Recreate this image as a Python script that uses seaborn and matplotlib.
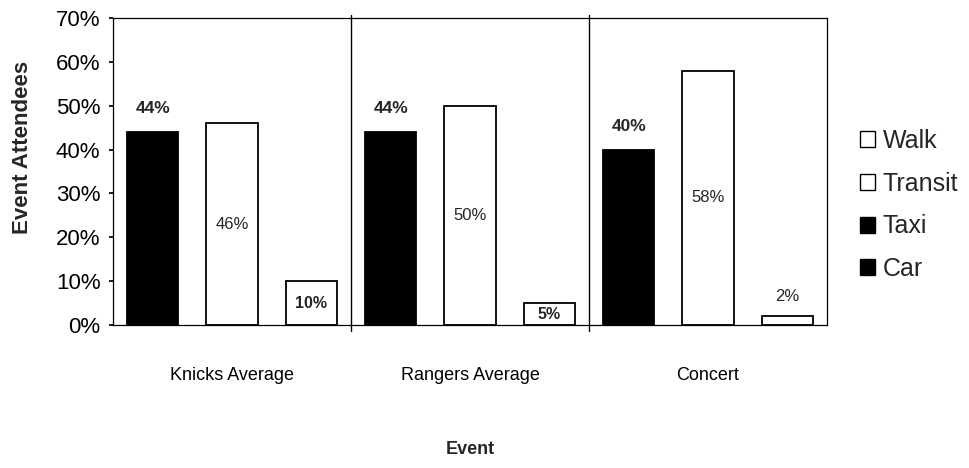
import matplotlib
matplotlib.use("Agg")
import matplotlib.pyplot as plt
from matplotlib.patches import Patch
from matplotlib.ticker import PercentFormatter
import pandas as pd
import seaborn as sns

events = ["Knicks Average", "Rangers Average", "Concert"]
modes = ["Taxi/Car", "Transit", "Walk"]
taxi_car = [0.44, 0.44, 0.40]
transit = [0.46, 0.50, 0.58]
walk = [0.10, 0.05, 0.02]
legend_labels = ["Walk", "Transit", "Taxi", "Car"]
legend_colors = ["white", "white", "black", "black"]


def build_frame():
    rows = []
    for mode, vals in zip(modes, [taxi_car, transit, walk]):
        for ev, v in zip(events, vals):
            rows.append({"Event": ev, "Mode": mode, "Share": v})
    return pd.DataFrame(rows)


def main():
    df = build_frame()
    sns.set_theme(style="white")
    plt.rcParams["font.family"] = ["Liberation Sans", "DejaVu Sans"]

    fig, ax = plt.subplots(figsize=(9.7, 4.68), dpi=100)
    fig.subplots_adjust(left=113 / 970, right=827 / 970, top=1 - 18 / 468, bottom=1 - 325 / 468)

    sns.barplot(
        data=df, x="Event", y="Share", hue="Mode", order=events, hue_order=modes,
        palette={"Taxi/Car": "black", "Transit": "white", "Walk": "white"},
        edgecolor="black", linewidth=1.3, width=1.0, gap=0.35, legend=False, ax=ax,
    )

    ax.set_xlim(-0.5, 2.5)
    ax.set_ylim(0, 0.7)
    ax.set_yticks([i / 10 for i in range(8)])
    ax.yaxis.set_major_formatter(PercentFormatter(1.0, decimals=0))
    ax.tick_params(axis="y", labelsize=16, length=3, direction="out", left=True, pad=6, colors="black")
    ax.tick_params(axis="x", labelsize=13, length=0, pad=30, colors="black")
    for sp in ax.spines.values():
        sp.set_color("black")
        sp.set_linewidth(0.9)

    # group separators
    for xs in [0.5, 1.5]:
        ax.axvline(xs, ymin=-0.02, ymax=1.01, color="black", lw=1.0, clip_on=False)

    # value labels
    for container, mode in zip(ax.containers, modes):
        for bar, ev in zip(container, events):
            v = bar.get_height()
            xc = bar.get_x() + bar.get_width() / 2
            txt = f"{round(v * 100):d}%"
            if mode == "Taxi/Car":
                ax.text(xc, v + 0.053, txt, ha="center", va="center", fontsize=12.5, fontweight="bold")
            elif mode == "Transit":
                ax.text(xc, v / 2, txt, ha="center", va="center", fontsize=12)
            else:
                if ev == "Concert":
                    ax.text(xc, v + 0.045, txt, ha="center", va="center", fontsize=12)
                else:
                    ax.text(xc, 0.024 if v < 0.07 else 0.05, txt, ha="center", va="center",
                            fontsize=11.5, fontweight="bold")

    ax.set_ylabel("Event Attendees", fontsize=16, fontweight="bold")
    ax.yaxis.set_label_coords(-0.112, 0.58)
    ax.set_xlabel("")
    fig.text(470 / 970, 1 - 450 / 468, "Event", ha="center", va="center", fontsize=13, fontweight="bold")

    handles = [Patch(facecolor=c, edgecolor="black", linewidth=1.0) for c in legend_colors]
    fig.legend(handles, legend_labels, loc="center left", bbox_to_anchor=(860 / 970, 1 - 205 / 468),
               frameon=False, fontsize=18, handlelength=0.6, handleheight=0.6,
               handletextpad=0.3, labelspacing=0.75, borderpad=0, borderaxespad=0)

    fig.savefig("out.png", dpi=100)


if __name__ == "__main__":
    main()
